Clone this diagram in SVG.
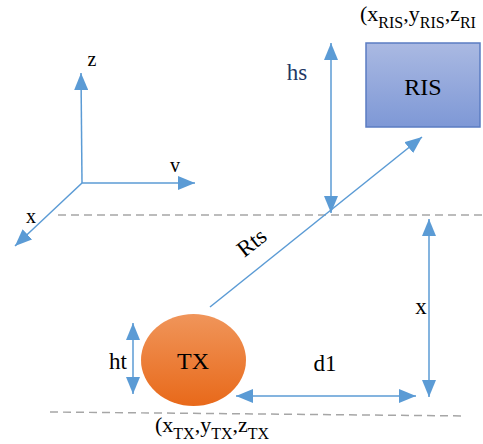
<svg xmlns="http://www.w3.org/2000/svg" width="483" height="444" viewBox="0 0 483 444">
<style>
.ln{stroke:#5B9BD5;stroke-width:1.5;fill:none}
.dash{stroke:#A6A6A6;stroke-width:1.5;stroke-dasharray:8 5;fill:none}
.ax{font-size:20px}
.lab{font-size:23px}
.big{font-size:24px}
.co{font-size:22px}
</style>
<defs>
<marker id="ah" markerUnits="userSpaceOnUse" markerWidth="18" markerHeight="14" viewBox="0 0 18 14" refX="17" refY="7" orient="auto-start-reverse">
<path d="M0,0 L17,7 L0,14 Z" fill="#5B9BD5"/>
</marker>
<linearGradient id="gRIS" x1="0" y1="0" x2="0" y2="1">
<stop offset="0" stop-color="#AAB9E2"/>
<stop offset="1" stop-color="#7E98D6"/>
</linearGradient>
<linearGradient id="gTX" x1="0" y1="0" x2="0" y2="1">
<stop offset="0" stop-color="#F0955A"/>
<stop offset="1" stop-color="#E8691A"/>
</linearGradient>
</defs>
<g id="guides">
<line class="dash" x1="58" y1="215" x2="483" y2="215"/>
<line class="dash" x1="50" y1="412" x2="466" y2="416"/>
</g>
<g font-family="'Liberation Serif', serif" fill="#000">
<g id="RIS">
<rect x="366" y="43" width="114" height="84" fill="url(#gRIS)" stroke="#5B7CC2" stroke-width="1.5"/>
<text class="big" x="423" y="95" text-anchor="middle">RIS</text>
</g>
<g id="TX">
<ellipse cx="193.5" cy="360" rx="52.5" ry="46" fill="url(#gTX)"/>
<text class="big" x="193" y="369" text-anchor="middle">TX</text>
</g>
<g id="connectors">
<line class="ln" x1="82" y1="183" x2="81" y2="73" marker-end="url(#ah)"/>
<line class="ln" x1="82" y1="183" x2="195" y2="183" marker-end="url(#ah)"/>
<line class="ln" x1="82" y1="183" x2="15" y2="246" marker-end="url(#ah)"/>
<line class="ln" x1="331" y1="43" x2="331" y2="213" marker-start="url(#ah)" marker-end="url(#ah)"/>
<line class="ln" x1="210" y1="307" x2="422" y2="137" marker-end="url(#ah)"/>
<line class="ln" x1="429" y1="219" x2="429" y2="397" marker-start="url(#ah)" marker-end="url(#ah)"/>
<line class="ln" x1="236" y1="396" x2="416" y2="396" marker-start="url(#ah)" marker-end="url(#ah)"/>
<line class="ln" x1="133" y1="323" x2="133" y2="394" marker-start="url(#ah)" marker-end="url(#ah)"/>
</g>
<g id="labels">
<text class="ax" x="92" y="66" text-anchor="middle">z</text>
<text class="ax" x="175" y="172" text-anchor="middle">v</text>
<text class="ax" x="31" y="223" text-anchor="middle">x</text>
<text class="lab" x="297" y="80" text-anchor="middle" fill="#1F3864">hs</text>
<text class="lab" x="252" y="250" text-anchor="middle" transform="rotate(-38 252 243)">Rts</text>
<text class="lab" x="421" y="314" text-anchor="middle">x</text>
<text class="lab" x="325" y="371" text-anchor="middle">d1</text>
<text class="lab" x="118" y="369" text-anchor="middle">ht</text>
<text class="co" x="360" y="21">(x<tspan font-size="16" dy="7">RIS</tspan><tspan dy="-7">,y</tspan><tspan font-size="16" dy="7">RIS</tspan><tspan dy="-7">,z</tspan><tspan font-size="16" dy="7">RI</tspan></text>
<text class="co" x="155" y="432">(x<tspan font-size="16" dy="7">TX</tspan><tspan dy="-7">,y</tspan><tspan font-size="16" dy="7">TX</tspan><tspan dy="-7">,z</tspan><tspan font-size="16" dy="7">TX</tspan></text>
</g>
</g>
</svg>
